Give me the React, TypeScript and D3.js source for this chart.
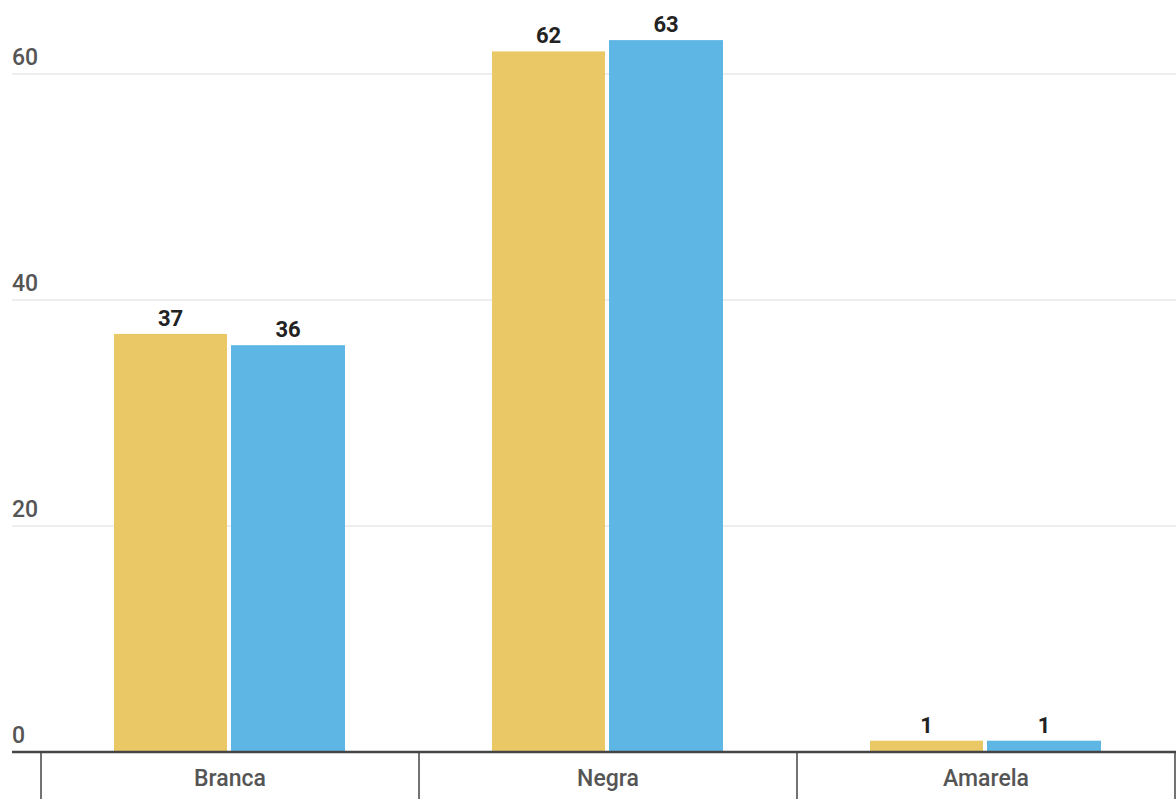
import React from "react";
import * as d3 from "d3";

const categories = ["Branca", "Negra", "Amarela"];
const seriesA = [37, 62, 1];
const seriesB = [36, 63, 1];
const yTicks = [0, 20, 40, 60];

const W = 1176;
const H = 799;

export default function App() {
  const x = d3.scaleBand<string>().domain(categories).range([41, 41 + 378 * 3]).padding(0);
  const y = d3.scaleLinear().domain([0, 60]).range([752, 74]);
  const font = "Roboto, 'Noto Sans', sans-serif";

  return (
    <svg width={W} height={H} style={{ position: "absolute", left: 0, top: 0 }}>
      <rect width={W} height={H} fill="#fff" />
      {yTicks.filter((t) => t > 0).map((t) => (
        <line key={t} x1={12} x2={W} y1={y(t)} y2={y(t)} stroke="#dcdcdc" strokeWidth={1} />
      ))}
      {yTicks.map((t) => (
        <text key={"l" + t} x={12} y={y(t) - 9} fontFamily={font} fontSize={23} fontWeight={500} fill="#555">
          {t}
        </text>
      ))}
      {categories.map((c, i) => {
        const cx = (x(c) as number) + x.bandwidth() / 2;
        const xa = cx - 116;
        const xb = cx + 1;
        return (
          <g key={c}>
            <rect x={xa} y={y(seriesA[i])} width={113} height={y(0) - y(seriesA[i])} fill="#EBC866" />
            <rect x={xb} y={y(seriesB[i])} width={114} height={y(0) - y(seriesB[i])} fill="#5EB6E4" />
            <text x={xa + 56.5} y={y(seriesA[i]) - 8} textAnchor="middle" fontFamily={font} fontSize={22} fontWeight={700} fill="#222">
              {seriesA[i]}
            </text>
            <text x={xb + 57} y={y(seriesB[i]) - 8} textAnchor="middle" fontFamily={font} fontSize={22} fontWeight={700} fill="#222">
              {seriesB[i]}
            </text>
            <text x={cx} y={786} textAnchor="middle" fontFamily={font} fontSize={23} fontWeight={500} fill="#555">
              {c}
            </text>
          </g>
        );
      })}
      {categories.map((c) => (
        <line key={"s" + c} x1={x(c) as number} x2={x(c) as number} y1={752} y2={H} stroke="#444" strokeWidth={1.5} />
      ))}
      <line x1={1175} x2={1175} y1={752} y2={H} stroke="#444" strokeWidth={1.5} />
      <line x1={12} x2={W} y1={752} y2={752} stroke="#444" strokeWidth={2.5} />
    </svg>
  );
}
